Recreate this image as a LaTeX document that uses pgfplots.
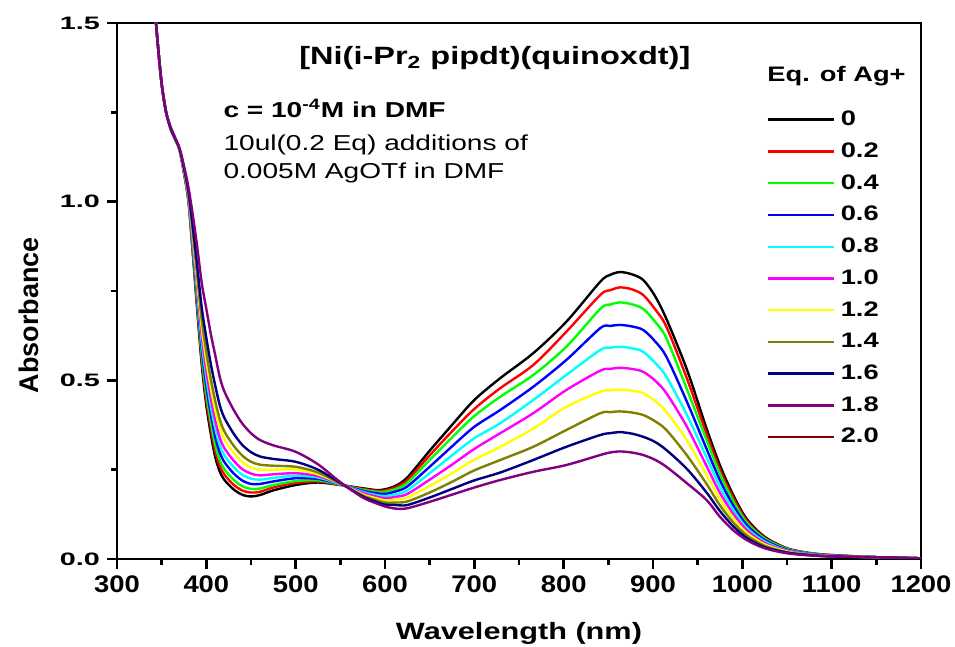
\documentclass[border=0pt]{standalone}
\usepackage{fontspec}
\setmainfont[FakeStretch=1.3]{Liberation Sans}
\newfontfamily\xtickfont[FakeStretch=1.14]{Liberation Sans}
\newfontfamily\ytickfont[FakeStretch=1.6]{Liberation Sans}
\newfontfamily\plainfont{Liberation Sans}
\usepackage{pgfplots}
\usepackage{pgfplotstable}
\pgfplotsset{compat=1.18}

\definecolor{cRed}{RGB}{255,0,0}
\definecolor{cGreen}{RGB}{0,255,0}
\definecolor{cBlue}{RGB}{0,0,255}
\definecolor{cCyan}{RGB}{0,255,255}
\definecolor{cMagenta}{RGB}{255,0,255}
\definecolor{cYellow}{RGB}{255,255,0}
\definecolor{cOlive}{RGB}{128,128,0}
\definecolor{cNavy}{RGB}{0,0,128}
\definecolor{cPurple}{RGB}{128,0,128}
\definecolor{cWine}{RGB}{128,0,0}

% absorbance vs wavelength, one column per equivalent of Ag+
\pgfplotstableread{
lam   e00   e02    e04   e06   e08   e10   e12   e14   e16   e18
340   1.62  1.62   1.62  1.62  1.62  1.62  1.62  1.62  1.62  1.62
345   1.46  1.46   1.46  1.46  1.46  1.46  1.46  1.46  1.46  1.46
350   1.33  1.33   1.33  1.33  1.33  1.33  1.33  1.33  1.33  1.33
355   1.25  1.25   1.25  1.25  1.25  1.25  1.25  1.25  1.25  1.25
360   1.205 1.205  1.205 1.205 1.205 1.205 1.205 1.205 1.205 1.21
365   1.175 1.175  1.175 1.175 1.175 1.175 1.175 1.175 1.177 1.18
370   1.145 1.145  1.145 1.145 1.145 1.146 1.146 1.147 1.148 1.15
375   1.08  1.081  1.082 1.084 1.086 1.087 1.089 1.091 1.094 1.10
380   1.00  1.002  1.005 1.008 1.011 1.014 1.018 1.022 1.028 1.04
385   0.85  0.857  0.863 0.872 0.881 0.890 0.901 0.911 0.927 0.96
390   0.69  0.701  0.712 0.726 0.740 0.755 0.773 0.789 0.816 0.87
395   0.54  0.554  0.568 0.586 0.604 0.623 0.646 0.667 0.701 0.77
400   0.43  0.446  0.462 0.484 0.506 0.527 0.554 0.579 0.619 0.70
405   0.35  0.367  0.384 0.406 0.428 0.451 0.479 0.504 0.546 0.63
410   0.285 0.302  0.319 0.342 0.365 0.388 0.416 0.442 0.485 0.57
415   0.245 0.261  0.277 0.298 0.319 0.340 0.367 0.391 0.431 0.51
420   0.222 0.237  0.252 0.272 0.291 0.311 0.336 0.358 0.396 0.47
430   0.196 0.209  0.223 0.241 0.259 0.277 0.299 0.319 0.353 0.42
440   0.180 0.192  0.204 0.220 0.236 0.252 0.272 0.290 0.320 0.38
450   0.175 0.186  0.196 0.210 0.225 0.239 0.256 0.272 0.299 0.352
460   0.179 0.188  0.197 0.210 0.222 0.234 0.250 0.264 0.287 0.333
475   0.192 0.200  0.207 0.217 0.227 0.237 0.250 0.261 0.280 0.318
500   0.207 0.213  0.218 0.226 0.233 0.240 0.250 0.258 0.272 0.300
525   0.214 0.217  0.220 0.224 0.228 0.232 0.237 0.242 0.250 0.265
550   0.207 0.2075 0.208 0.209 0.209 0.210 0.211 0.211 0.213 0.215
575   0.198 0.196  0.194 0.191 0.188 0.185 0.181 0.178 0.175 0.172
590   0.193 0.191  0.188 0.184 0.179 0.175 0.170 0.165 0.160 0.156
600   0.195 0.192  0.188 0.182 0.176 0.170 0.164 0.158 0.152 0.147
612   0.205 0.201  0.196 0.189 0.181 0.174 0.166 0.158 0.151 0.141
625   0.228 0.221  0.213 0.203 0.192 0.182 0.172 0.161 0.151 0.142
650   0.303 0.290  0.277 0.258 0.240 0.222 0.204 0.186 0.172 0.160
675   0.375 0.357  0.340 0.315 0.290 0.264 0.240 0.216 0.196 0.180
700   0.445 0.420  0.400 0.370 0.338 0.308 0.278 0.248 0.220 0.200
729   0.506 0.478  0.454 0.417 0.380 0.352 0.314 0.277 0.242 0.221
766   0.576 0.543  0.515 0.482 0.445 0.408 0.365 0.314 0.277 0.244
803   0.664 0.636  0.594 0.557 0.515 0.473 0.426 0.361 0.314 0.263
841   0.776 0.739  0.700 0.646 0.585 0.527 0.468 0.408 0.347 0.291
852   0.795 0.752  0.712 0.652 0.591 0.532 0.472 0.411 0.352 0.298
863   0.803 0.760  0.718 0.655 0.594 0.535 0.474 0.413 0.355 0.301
876   0.797 0.755  0.713 0.651 0.590 0.532 0.471 0.410 0.351 0.298
889   0.781 0.739  0.700 0.641 0.580 0.524 0.464 0.403 0.342 0.291
902   0.737 0.700  0.665 0.610 0.550 0.500 0.443 0.386 0.328 0.278
915   0.672 0.650  0.618 0.566 0.510 0.464 0.412 0.361 0.305 0.258
938   0.530 0.505  0.475 0.440 0.403 0.370 0.332 0.290 0.252 0.212
960   0.365 0.350  0.333 0.308 0.284 0.260 0.235 0.210 0.186 0.165
975   0.262 0.250  0.238 0.220 0.202 0.185 0.168 0.150 0.134 0.118
990   0.178 0.170  0.161 0.149 0.137 0.126 0.114 0.102 0.091 0.080
1005  0.112 0.107  0.102 0.095 0.087 0.081 0.073 0.066 0.059 0.053
1025  0.062 0.059  0.057 0.053 0.049 0.045 0.041 0.037 0.033 0.030
1050  0.030 0.029  0.028 0.026 0.024 0.023 0.021 0.019 0.018 0.016
1075  0.017 0.016  0.016 0.015 0.014 0.013 0.012 0.012 0.011 0.010
1100  0.011 0.011  0.010 0.010 0.009 0.009 0.008 0.008 0.007 0.007
1150  0.005 0.005  0.005 0.005 0.005 0.005 0.005 0.005 0.005 0.005
1200  0.002 0.002  0.002 0.002 0.002 0.002 0.002 0.002 0.002 0.002
}\spectra

\begin{document}
\begin{tikzpicture}
\useasboundingbox (-58.5pt,-44pt) rectangle (419pt,279.5pt);
\begin{axis}[
    scale only axis, width=402pt, height=268pt,
    xmin=300, xmax=1200, ymin=0, ymax=1.5,
    xtick={300,400,...,1200}, ytick={0,0.5,1,1.5},
    minor x tick num=1, minor y tick num=1,
    tick pos=left, tick align=outside,
    major tick length=5pt, minor tick length=3pt,
    axis line style={line width=1.3pt},
    every tick/.style={black, line width=1.2pt},
    /pgf/number format/assume math mode=true,
    xticklabel style={font=\xtickfont\bfseries\fontsize{12}{12}\selectfont,
        /pgf/number format/1000 sep={}},
    yticklabel style={font=\ytickfont\bfseries\fontsize{9}{9}\selectfont,
        /pgf/number format/.cd, fixed, fixed zerofill, precision=1},
    xlabel={Wavelength (nm)},
    ylabel={Absorbance},
    every axis x label/.style={at={(rel axis cs:0.5,-0.151)}, anchor=base,
        font=\bfseries\fontsize{11.8}{12}\selectfont},
    every axis y label/.style={at={(rel axis cs:-0.098,0.455)}, anchor=base, rotate=90,
        font=\plainfont\bfseries\fontsize{13.5}{14}\selectfont},
    every axis plot/.append style={line width=1.2pt, smooth, tension=0.5},
    legend style={draw=none, fill=none, at={(rel axis cs:0.8072,0.8368)}, anchor=north west,
        inner sep=0pt, row sep=7.05pt, font=\bfseries\fontsize{10.5}{12}\selectfont,
        nodes={inner sep=0pt}, /tikz/every odd column/.append style={column sep=3pt}},
    legend cell align=left,
    legend image code/.code={\draw[#1] (0pt,0pt) -- (33pt,0pt);},
]
\addplot[black]    table[x=lam, y=e00] {\spectra};
\addplot[cRed]     table[x=lam, y=e02] {\spectra};
\addplot[cGreen]   table[x=lam, y=e04] {\spectra};
\addplot[cBlue]    table[x=lam, y=e06] {\spectra};
\addplot[cCyan]    table[x=lam, y=e08] {\spectra};
\addplot[cMagenta] table[x=lam, y=e10] {\spectra};
\addplot[cYellow]  table[x=lam, y=e12] {\spectra};
\addplot[cOlive]   table[x=lam, y=e14] {\spectra};
\addplot[cNavy]    table[x=lam, y=e16] {\spectra};
\addplot[cPurple]  table[x=lam, y=e18] {\spectra};
\addlegendimage{cWine, line width=1.2pt}
\legend{0,0.2,0.4,0.6,0.8,1.0,1.2,1.4,1.6,1.8,2.0}

\node[anchor=base, inner sep=0pt, font=\bfseries\fontsize{12.5}{15}\selectfont]
    at (rel axis cs:0.470,0.922) {[Ni(i-Pr\textsubscript{2} pipdt)(quinoxdt)]};
\node[anchor=base west, inner sep=0pt, font=\bfseries\fontsize{10.8}{13}\selectfont]
    at (rel axis cs:0.132,0.8246) {c = 10\textsuperscript{-4}M in DMF};
\node[anchor=base west, inner sep=0pt, font=\fontsize{10.8}{13}\selectfont]
    at (rel axis cs:0.132,0.763) {10ul(0.2 Eq) additions of};
\node[anchor=base west, inner sep=0pt, font=\fontsize{10.8}{13}\selectfont]
    at (rel axis cs:0.132,0.709) {0.005M AgOTf in DMF};
\node[anchor=base west, inner sep=0pt, font=\bfseries\fontsize{10.5}{12}\selectfont]
    at (rel axis cs:0.8085,0.8905) {Eq. of Ag+};
\end{axis}
\end{tikzpicture}
\end{document}
